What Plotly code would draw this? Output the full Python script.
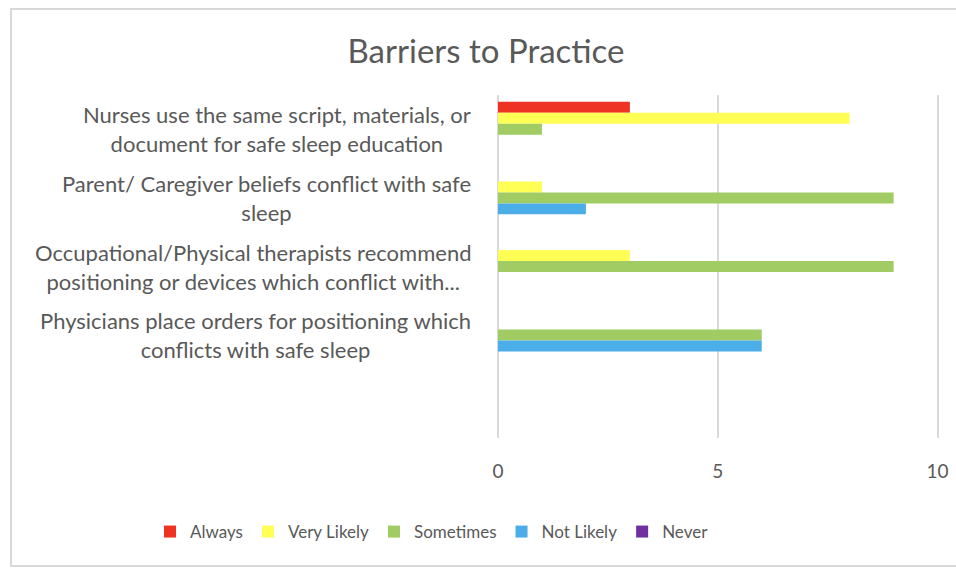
import plotly.graph_objects as go

categories = [
    "Nurses use the same script, materials, or<br>document for safe sleep education",
    "Parent/ Caregiver beliefs conflict with safe<br>sleep",
    "Occupational/Physical therapists recommend<br>positioning or devices which conflict with...",
    "Physicians place orders for positioning which<br>conflicts with safe sleep",
]
cat_keys = ["Nurses", "Parent", "Occupational", "Physicians"]

series_names = ["Always", "Very Likely", "Sometimes", "Not Likely", "Never"]
always = [3, 0, 0, 0]
very_likely = [8, 1, 3, 0]
sometimes = [1, 9, 9, 6]
not_likely = [0, 2, 0, 6]
never = [0, 0, 0, 0]
series_values = [always, very_likely, sometimes, not_likely, never]
colors = ["#EE3224", "#FFFF55", "#A0CC63", "#4BAEE8", "#7030A0"]
x_ticks = [0, 5, 10]

FONT = "Lato"
GRAY = "#595959"
GRID = "#D9D9D9"

fig = go.Figure()
for name, vals, col in zip(series_names, series_values, colors):
    fig.add_trace(go.Bar(
        y=cat_keys, x=vals, name=name, orientation="h",
        marker=dict(color=col, line=dict(width=0)),
    ))

W, H = 956, 572
L, R, T, B = 498, 14, 95, H - 438
PW, PH = W - L - R, H - T - B


def px_x(x):
    return (x - L) / PW


def px_y(y):
    return 1 - (y - T) / PH


fig.update_layout(
    width=W, height=H,
    margin=dict(l=L, r=R, t=T, b=B, autoexpand=False),
    paper_bgcolor="white", plot_bgcolor="white",
    barmode="group", bargap=0.2, bargroupgap=0,
    font=dict(family=FONT, color=GRAY, size=19),
    title=dict(text="Barriers to Practice", x=486 / W, xanchor="center",
               y=1 - 51 / H, yanchor="middle",
               font=dict(family=FONT, size=33, color=GRAY)),
    showlegend=True,
    legend=dict(orientation="h", x=px_x(150), xanchor="left",
                y=px_y(532), yanchor="middle",
                font=dict(family=FONT, size=17, color=GRAY),
                itemwidth=30, traceorder="normal"),
    xaxis=dict(range=[0, 10.1], tickvals=x_ticks, showgrid=True, gridcolor=GRID,
               gridwidth=1.5, zeroline=True, zerolinecolor=GRID, zerolinewidth=1.5,
               showline=False, ticks="", ticklabelstandoff=20,
               ticklabeloverflow="allow",
               tickfont=dict(family=FONT, size=19, color=GRAY)),
    yaxis=dict(type="category", categoryorder="array", categoryarray=cat_keys,
               range=[4.5, -0.5], showticklabels=False, showgrid=False,
               zeroline=False, showline=False, ticks=""),
)

for key, label in zip(cat_keys, categories):
    fig.add_annotation(text=label, x=px_x(473), xref="paper",
                       y=key, yref="y", xanchor="right", yanchor="middle",
                       align="center", showarrow=False,
                       font=dict(family=FONT, size=22, color=GRAY))

# chart frame
frame = dict(color=GRID, width=2)
fig.add_shape(type="line", xref="paper", yref="paper",
              x0=px_x(10), x1=px_x(960), y0=px_y(9), y1=px_y(9), line=frame)
fig.add_shape(type="line", xref="paper", yref="paper",
              x0=px_x(10), x1=px_x(960), y0=px_y(566), y1=px_y(566), line=frame)
fig.add_shape(type="line", xref="paper", yref="paper",
              x0=px_x(11), x1=px_x(11), y0=px_y(9), y1=px_y(566), line=frame)

fig.write_html(
    "out.html",
    config={"displayModeBar": False},
    post_script=(
        "document.body.style.margin='0';"
        "document.body.style.overflow='hidden';"
        "document.documentElement.style.overflow='hidden';"
    ),
)
